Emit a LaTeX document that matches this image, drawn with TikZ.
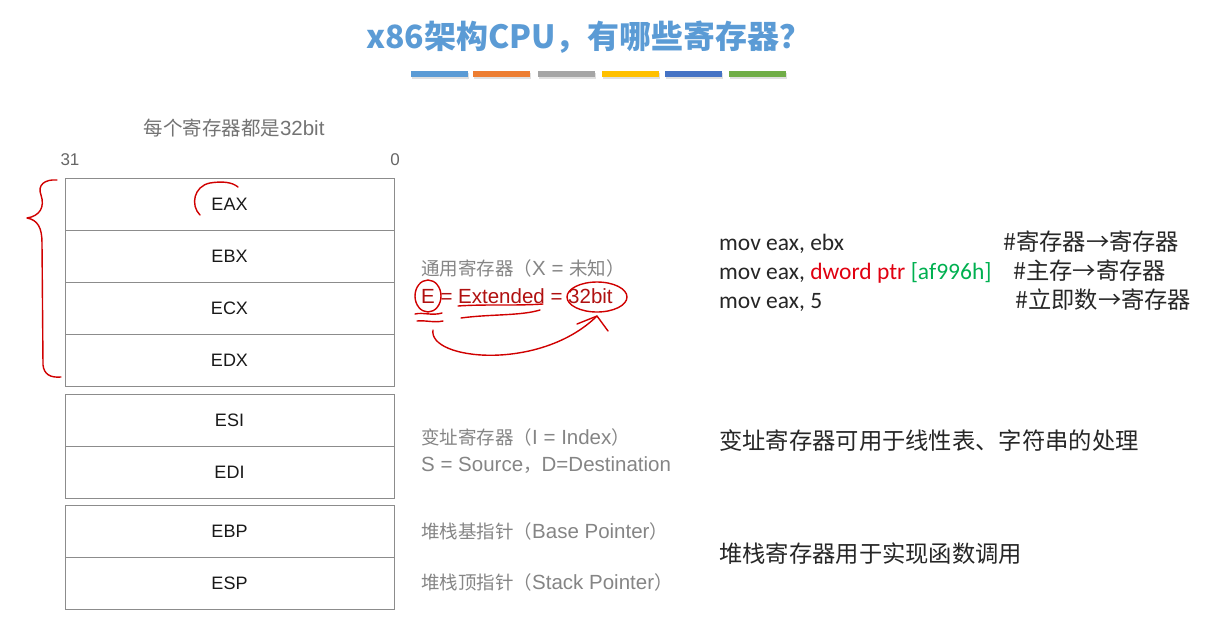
\documentclass[tikz,border=0pt]{standalone}
\usepackage{fontspec}
\setmainfont{Liberation Sans}
\newfontfamily\cjk{Noto Sans CJK SC}
\newfontfamily\codefont{Carlito}
\newcommand\zh[1]{{\cjk\fontsize{18.5}{20}\selectfont #1}}
\usepackage{tikz}
\usetikzlibrary{positioning, arrows}
\definecolor{titleblue}{HTML}{5B9BD5}
\definecolor{regline}{HTML}{8C8C8C}
\definecolor{notegray}{HTML}{858585}
\definecolor{codeblack}{HTML}{262626}
\definecolor{inkred}{HTML}{D00000}
\definecolor{extred}{HTML}{B01010}
\definecolor{ptrred}{HTML}{E00010}
\definecolor{hexgreen}{HTML}{00B050}
\tikzstyle{reg}=[draw=regline, minimum width=329pt, minimum height=51.75pt, inner sep=0pt, text=black!90, font=\fontsize{18}{20}\selectfont]
\tikzstyle{note}=[anchor=base west, inner sep=0pt, text=notegray, font=\fontsize{20.5}{22}\selectfont]
\tikzstyle{code}=[anchor=base west, inner sep=0pt, text=codeblack, font=\codefont\fontsize{23.5}{25}\selectfont]
\tikzstyle{remark}=[anchor=base west, inner sep=0pt, text=codeblack, font=\cjk\fontsize{23.3}{25}\selectfont]
\tikzstyle{ink}=[inkred, line width=1.4pt, line cap=round, line join=round]
\tikzset{>=stealth}

\begin{document}
\begin{tikzpicture}[x=1pt, y=-1pt]
\useasboundingbox (0,0) rectangle (1212,630);
% the title and the coloured bars
\node[font=\cjk\bfseries\fontsize{32}{34}\selectfont, text=titleblue] (title) at (589,37) {x86架构CPU，有哪些寄存器？};
\fill[black!12] (412,72.5) rectangle +(57,6);
\fill[black!12] (474,72.5) rectangle +(57,6);
\fill[black!12] (539,72.5) rectangle +(57,6);
\fill[black!12] (603,72.5) rectangle +(57,6);
\fill[black!12] (666,72.5) rectangle +(57,6);
\fill[black!12] (730,72.5) rectangle +(57,6);
\fill[color={rgb,255:red,91;green,155;blue,213}] (411,71) rectangle +(57,6);
\fill[color={rgb,255:red,237;green,125;blue,49}] (473,71) rectangle +(57,6);
\fill[color={rgb,255:red,165;green,165;blue,165}] (538,71) rectangle +(57,6);
\fill[color={rgb,255:red,255;green,192;blue,0}] (602,71) rectangle +(57,6);
\fill[color={rgb,255:red,68;green,114;blue,196}] (665,71) rectangle +(57,6);
\fill[color={rgb,255:red,112;green,173;blue,71}] (729,71) rectangle +(57,6);
% the bit numbers
\node[note, anchor=center, text=black!55] (width) at (234,128) {{\cjk\fontsize{19.5}{20}\selectfont 每个寄存器都是}32bit};
\node[text=black!60, font=\fontsize{17}{19}\selectfont] (msb) at (70,160) {31};
\node[text=black!60, font=\fontsize{17}{19}\selectfont] (lsb) at (395,160) {0};
% the general registers
\node[reg] (EAX) at (229.5,203.9) {EAX};
\node[reg, below=0pt of EAX] (EBX) {EBX};
\node[reg, below=0pt of EBX] (ECX) {ECX};
\node[reg, below=0pt of ECX] (EDX) {EDX};
% the index registers
\node[reg, below=7.5pt of EDX] (ESI) {ESI};
\node[reg, below=0pt of ESI] (EDI) {EDI};
% the stack registers
\node[reg, below=7pt of EDI] (EBP) {EBP};
\node[reg, below=0pt of EBP] (ESP) {ESP};
% the notes beside them
\node[note] (gen) at (421,275) {\zh{通用寄存器（}X = \zh{未知）}};
\node[note, text=extred] (ext) at (421,303) {E = Extended = 32bit};
\node[note] (idx) at (421,444) {\zh{变址寄存器（}I = Index\zh{）}};
\node[note] (srcdst) at (421,471) {S = Source\zh{，}D=Destination};
\node[note] (base) at (421,538) {\zh{堆栈基指针（}Base Pointer\zh{）}};
\node[note] (top) at (421,589) {\zh{堆栈顶指针（}Stack Pointer\zh{）}};
% the mov examples
\node[code] (mov1) at (719,250) {mov eax, ebx};
\node[code] (mov2) at (719,279) {mov eax, \textcolor{ptrred}{dword ptr} \textcolor{hexgreen}{[af996h]}};
\node[code] (mov3) at (719,308) {mov eax, 5};
\node[remark] (rem1) at (1003,250) {\#寄存器→寄存器};
\node[remark] (rem2) at (1013,279) {\#主存→寄存器};
\node[remark] (rem3) at (1015,308) {\#立即数→寄存器};
\node[remark, anchor=west] (useidx) at (719,441) {变址寄存器可用于线性表、字符串的处理};
\node[remark, anchor=west] (usestk) at (719,554) {堆栈寄存器用于实现函数调用};
% the red pen marks
\draw[ink] (57,180) .. controls (45,179) and (37,185) .. (41,195) .. controls (45,207) and (40,216) .. (27,218) .. controls (38,220) and (42,228) .. (42,243) -- (43,365) .. controls (44,374) and (50,378) .. (61,377);
\draw[ink] (200,215) .. controls (190,205) and (194,186) .. (210,183) .. controls (222,181) and (232,182) .. (238,187);
\draw[ink] (428,296) ellipse (13 and 16);
\draw[ink] (597,297) ellipse (30 and 15);
\draw[ink] (458,306) .. controls (485,304) and (515,306) .. (543,304);
\draw[ink] (461,318) .. controls (490,314) and (520,316) .. (540,310);
\draw[ink] (415,314) .. controls (423,312) and (432,316) .. (442,313);
\draw[ink] (417,321) .. controls (425,320) and (434,323) .. (443,321);
\coordinate (bend) at (433,330);
\coordinate (tip) at (597,316);
\draw[ink] (bend) .. controls (428,360) and (540,372) .. (tip);
\draw[ink] (577,324) -- (tip) -- (608,331);
\end{tikzpicture}
\end{document}
